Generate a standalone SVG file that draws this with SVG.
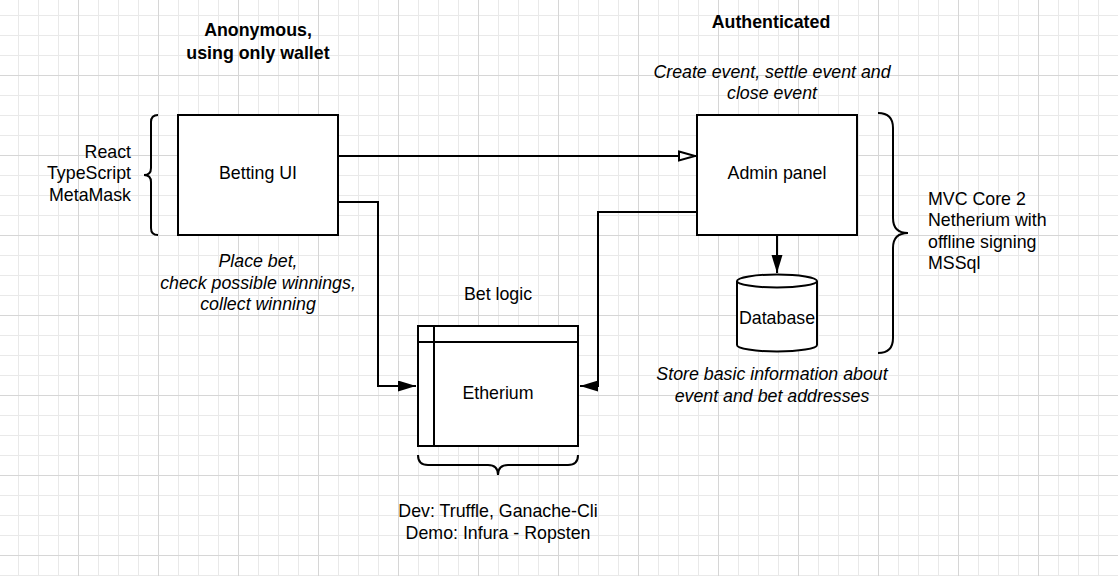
<svg xmlns="http://www.w3.org/2000/svg" width="1118" height="576" viewBox="0 0 1118 576">
  <style>
    text { font-family: "Liberation Sans", Arial, sans-serif; font-size: 17.8px; fill: #000; }
    .b { font-weight: bold; }
    .i { font-style: italic; }
    .c { text-anchor: middle; }
    .r { text-anchor: end; }
    .box { fill: #fff; stroke: #000; stroke-width: 2; }
    .ln { fill: none; stroke: #000; stroke-width: 2; }
  </style>
  <defs>
    <pattern id="grid" patternUnits="userSpaceOnUse" x="-2" y="-5" width="80" height="80">
      <path d="M20.5,0V80M40.5,0V80M60.5,0V80M0,20.5H80M0,40.5H80M0,60.5H80" stroke="#e9e9e9" stroke-width="1" fill="none"/>
      <path d="M0.5,0V80M0,0.5H80" stroke="#d6d6d6" stroke-width="1" fill="none"/>
    </pattern>
    <marker id="fill" markerUnits="userSpaceOnUse" markerWidth="20" markerHeight="12" refX="18" refY="5.5" orient="auto">
      <path d="M0,0 L18,5.5 L0,11 z" fill="#000"/>
    </marker>
    <marker id="open" markerUnits="userSpaceOnUse" markerWidth="22" markerHeight="14" refX="19" refY="6" orient="auto">
      <path d="M2,1.5 L18,6 L2,10.5 z" fill="#fff" stroke="#000" stroke-width="2"/>
    </marker>
  </defs>
  <rect width="1118" height="576" fill="#fff"/>
  <rect width="1118" height="576" fill="url(#grid)"/>

  <g id="connectors">
    <path class="ln" d="M338,156 H696" marker-end="url(#open)"/>
    <path class="ln" d="M338,202 H378 V386 H416" marker-end="url(#fill)"/>
    <path class="ln" d="M697,212 H598 V386 H580" marker-end="url(#fill)"/>
    <path class="ln" d="M777,235 V273" marker-end="url(#fill)"/>
  </g>

  <g id="heading-anon">
    <text class="b c" x="258" y="36">Anonymous,</text>
    <text class="b c" x="258" y="58.5">using only wallet</text>
  </g>
  <g id="heading-auth">
    <text class="b c" x="771" y="28">Authenticated</text>
  </g>
  <g id="admin-note">
    <text class="i c" x="772" y="77.5">Create event, settle event and</text>
    <text class="i c" x="772" y="99">close event</text>
  </g>

  <g id="frontend-stack">
    <path class="ln" d="M158,115 Q151,115 151,122 L151,168 Q151,175 144,175 Q151,175 151,182 L151,228 Q151,235 158,235"/>
    <text class="r" x="131" y="157.5">React</text>
    <text class="r" x="131" y="179">TypeScript</text>
    <text class="r" x="131" y="200.5">MetaMask</text>
  </g>

  <g id="betting-ui">
    <rect class="box" x="178" y="115" width="160" height="120"/>
    <text class="c" x="258" y="178.5">Betting UI</text>
  </g>
  <g id="betting-note">
    <text class="i c" x="258" y="267">Place bet,</text>
    <text class="i c" x="258" y="288.5">check possible winnings,</text>
    <text class="i c" x="258" y="310">collect winning</text>
  </g>

  <g id="admin-panel">
    <rect class="box" x="697" y="115" width="160" height="120"/>
    <text class="c" x="777" y="178.5">Admin panel</text>
  </g>

  <g id="database">
    <path class="box" d="M737,281 A40,6.5 0 0 1 817,281 L817,345 A40,6.5 0 0 1 737,345 Z"/>
    <path class="ln" d="M737,281 A40,6.5 0 0 0 817,281"/>
    <text class="c" x="777" y="324">Database</text>
  </g>
  <g id="database-note">
    <text class="i c" x="772" y="380">Store basic information about</text>
    <text class="i c" x="772" y="401.5">event and bet addresses</text>
  </g>

  <g id="backend-stack">
    <path class="ln" d="M878,113 Q893,113 893,128 L893,218 Q893,233 908,233 Q893,233 893,248 L893,338 Q893,353 878,353"/>
    <text x="928" y="204.5">MVC Core 2</text>
    <text x="928" y="226">Netherium with</text>
    <text x="928" y="247.5">offline signing</text>
    <text x="928" y="269">MSSql</text>
  </g>

  <g id="bet-logic-label">
    <text class="c" x="498" y="300">Bet logic</text>
  </g>
  <g id="etherium">
    <rect class="box" x="418" y="326" width="160" height="120"/>
    <path class="ln" d="M418,342 H578 M434,326 V446"/>
    <text class="c" x="498" y="398.5">Etherium</text>
  </g>

  <g id="chain-env">
    <path class="ln" d="M418,455 Q418,465 428,465 L488,465 Q498,465 498,475 Q498,465 508,465 L568,465 Q578,465 578,455"/>
    <text class="c" x="498" y="517">Dev: Truffle, Ganache-Cli</text>
    <text class="c" x="498" y="539">Demo: Infura - Ropsten</text>
  </g>
</svg>
